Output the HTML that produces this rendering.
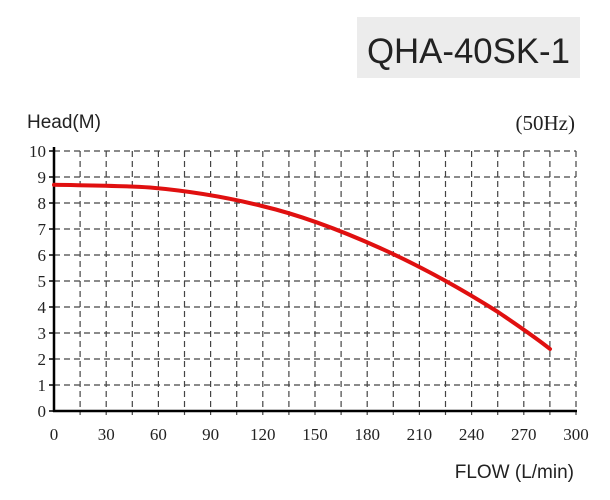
<!DOCTYPE html>
<html><head><style>body{margin:0;background:#fff}svg{display:block}</style></head><body>
<svg width="610" height="500" xmlns="http://www.w3.org/2000/svg">
<rect x="357" y="17" width="223" height="61" fill="#ececec"/>
<text x="468.5" y="63" font-family="Liberation Sans, sans-serif" font-size="35" text-anchor="middle" fill="#222" textLength="203" lengthAdjust="spacingAndGlyphs">QHA-40SK-1</text>
<text x="27" y="128" font-family="Liberation Sans, sans-serif" font-size="19" fill="#222">Head(M)</text>
<text x="575" y="130" font-family="Liberation Serif, serif" font-size="21" text-anchor="end" fill="#222">(50Hz)</text>
<g stroke="#444" stroke-width="1.2" stroke-dasharray="6,4" fill="none">
<path d="M54 151H576M54 177H576M54 203H576M54 229H576M54 255H576M54 281H576M54 307H576M54 333H576M54 359H576M54 385H576"/>
<path d="M80.1 151V415M106.2 151V415M132.3 151V415M158.4 151V415M184.5 151V415M210.6 151V415M236.7 151V415M262.8 151V415M288.9 151V415M315 151V415M341.1 151V415M367.2 151V415M393.3 151V415M419.4 151V415M445.5 151V415M471.6 151V415M497.7 151V415M523.8 151V415M549.9 151V415M576 151V415"/>
</g>
<g stroke="#000" stroke-width="1.5">
<path d="M49 151H54M49 177H54M49 203H54M49 229H54M49 255H54M49 281H54M49 307H54M49 333H54M49 359H54M49 385H54M49 411H54"/>
</g>
<line x1="54" y1="147" x2="54" y2="412" stroke="#000" stroke-width="2.5"/>
<line x1="53" y1="411" x2="577" y2="411" stroke="#000" stroke-width="2.5"/>
<g font-family="Liberation Serif, serif" font-size="17" fill="#222" text-anchor="end">
<text x="46" y="157">10</text><text x="46" y="183">9</text><text x="46" y="209">8</text><text x="46" y="235">7</text><text x="46" y="261">6</text><text x="46" y="287">5</text><text x="46" y="313">4</text><text x="46" y="339">3</text><text x="46" y="365">2</text><text x="46" y="391">1</text><text x="46" y="417">0</text>
</g>
<g font-family="Liberation Serif, serif" font-size="17" fill="#222" text-anchor="middle">
<text x="54" y="440">0</text><text x="106.2" y="440">30</text><text x="158.4" y="440">60</text><text x="210.6" y="440">90</text><text x="262.8" y="440">120</text><text x="315" y="440">150</text><text x="367.2" y="440">180</text><text x="419.4" y="440">210</text><text x="471.6" y="440">240</text><text x="523.8" y="440">270</text><text x="576" y="440">300</text>
</g>
<text x="574" y="478" font-family="Liberation Sans, sans-serif" font-size="19" text-anchor="end" fill="#222">FLOW (L/min)</text>
<path d="M54 184.8 C90 185.5 120 185.5 150 187.5 C190 191 230 198 262 206 C300 215 340 230 380 248 C420 266 460 288 498 312 C520 327 535 337 550 349" stroke="#e01010" stroke-width="4" fill="none" stroke-linecap="round"/>
</svg>
</body></html>
